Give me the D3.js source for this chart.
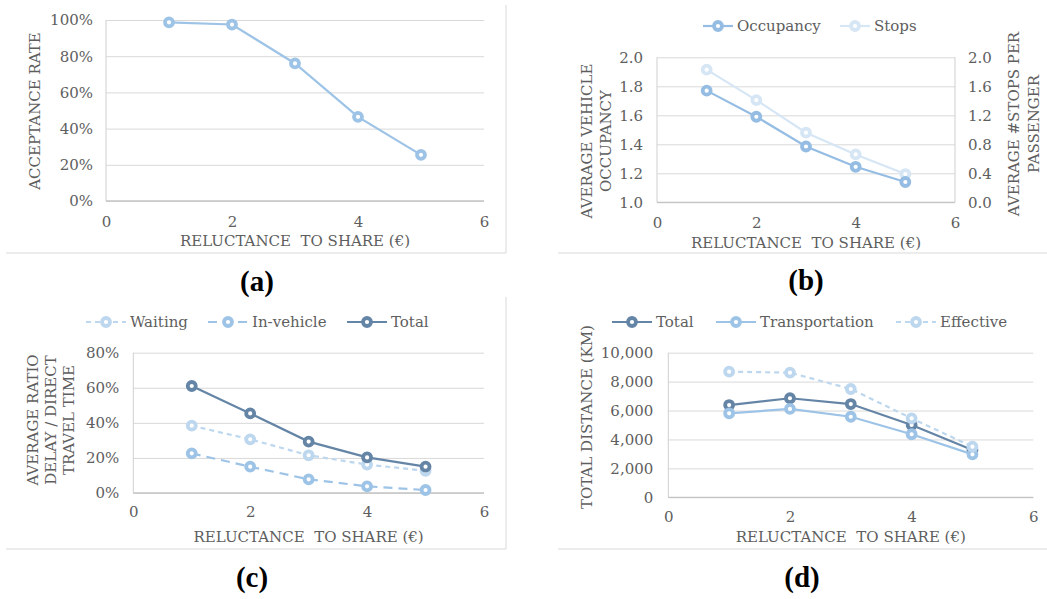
<!DOCTYPE html>
<html>
<head>
<meta charset="utf-8">
<script src="https://cdn.jsdelivr.net/npm/d3@7"></script>
<style>
  body { margin: 0; background: #fff; }
  svg text { font-family: "DejaVu Serif", serif; fill: #5e5e5e; white-space: pre; }
  .tick line { stroke: #d9d9d9; }
</style>
</head>
<body>
<svg id="fig" width="1047" height="599"></svg>
<script>
// data
var reluctance = [1, 2, 3, 4, 5]
var xTicks = [0, 2, 4, 6]

var acceptanceRate = [98.7, 97.5, 76, 46.5, 25.5]
var acceptanceTicks = [0, 20, 40, 60, 80, 100]

var occupancy = [1.77, 1.59, 1.385, 1.245, 1.14]
var stopsPerPassenger = [1.83, 1.41, 0.96, 0.66, 0.39]
var occupancyTicks = [1.0, 1.2, 1.4, 1.6, 1.8, 2.0]
var stopsTicks = [0.0, 0.4, 0.8, 1.2, 1.6, 2.0]

var waitingRatio = [38.4, 30.6, 21.5, 16.2, 12.7]
var inVehicleRatio = [22.6, 15, 7.8, 3.8, 1.7]
var totalRatio = [61, 45.4, 29.3, 20.3, 15]
var ratioTicks = [0, 20, 40, 60, 80]

var totalDistance = [6380, 6850, 6450, 5000, 3270]
var transportationDistance = [5810, 6110, 5570, 4360, 2970]
var effectiveDistance = [8690, 8620, 7490, 5460, 3500]
var distanceTicks = [0, 2000, 4000, 6000, 8000, 10000]

var svg = d3.select("#fig")

var cLight = "#9dc3e6", cPale = "#d6e6f5", cWait = "#bdd7ee", cDark = "#6585a6"

// panel frame lines
var frames = [[506, 5, 506, 253], [6, 253, 506, 253], [558, 253, 1047, 253],
              [506, 297, 506, 549], [6, 549, 506, 549], [558, 549, 1047, 549]]
svg.selectAll(".frame").data(frames).enter().append("line")
    .attr("x1", d => d[0]).attr("y1", d => d[1]).attr("x2", d => d[2]).attr("y2", d => d[3])
    .attr("stroke", "#d9d9d9").attr("stroke-width", 1)

function marker(sel, color) {
    sel.attr("r", 4).attr("fill", "#fff").attr("stroke", color).attr("stroke-width", 3.8)
}

function drawPanel(p) {
    var g = svg.append("g")
    var x = d3.scaleLinear().domain([0, 6]).range([p.left, p.right])
    var y = d3.scaleLinear().domain(p.yDomain).range([p.bottom, p.top])
    var w = p.right - p.left

    // y axis with gridlines
    var ya = g.append("g")
        .attr("transform", "translate(" + p.left + ",0)")
        .call(d3.axisLeft(y).tickValues(p.yTicks).tickSize(-w).tickPadding(p.yPad).tickFormat(p.yFormat))
    ya.select(".domain").remove()
    ya.selectAll("text").style("font-size", "15px")

    // plot edges
    g.append("line").attr("x1", p.left).attr("x2", p.left).attr("y1", p.top).attr("y2", p.bottom)
        .attr("stroke", "#cfcfcf")
    g.append("line").attr("x1", p.left).attr("x2", p.right).attr("y1", p.bottom).attr("y2", p.bottom)
        .attr("stroke", "#c4c4c4").attr("stroke-width", 1.3)
    if (p.y2) {
        g.append("line").attr("x1", p.right).attr("x2", p.right).attr("y1", p.top).attr("y2", p.bottom)
            .attr("stroke", "#cfcfcf")
        var y2 = d3.scaleLinear().domain(p.y2Domain).range([p.bottom, p.top])
        var ra = g.append("g")
            .attr("transform", "translate(" + p.right + ",0)")
            .call(d3.axisRight(y2).tickValues(p.y2Ticks).tickSize(0).tickPadding(13).tickFormat(d3.format(".1f")))
        ra.select(".domain").remove()
        ra.selectAll("text").style("font-size", "15px")
    }

    // x axis labels
    var xa = g.append("g")
        .attr("transform", "translate(0," + p.bottom + ")")
        .call(d3.axisBottom(x).tickValues(xTicks).tickSize(0).tickPadding(p.xPad).tickFormat(d3.format("d")))
    xa.select(".domain").remove()
    xa.selectAll("text").style("font-size", "15px")

    g.append("text")
        .attr("x", (p.left + p.right) / 2).attr("y", p.xTitleY)
        .attr("text-anchor", "middle").style("font-size", "15px")
        .text("RELUCTANCE  TO SHARE (€)")

    p.yTitles.forEach(t => {
        g.append("text")
            .attr("transform", "translate(" + t.x + "," + t.y + ") rotate(-90)")
            .attr("text-anchor", "middle").attr("dominant-baseline", "central")
            .style("font-size", "15px")
            .text(t.text)
    })

    // series
    p.series.forEach(s => {
        var ys = s.axis2 ? d3.scaleLinear().domain(p.y2Domain).range([p.bottom, p.top]) : y
        var pts = reluctance.map((r, i) => [x(r), ys(s.values[i])])
        g.append("path")
            .attr("d", d3.line()(pts))
            .attr("fill", "none").attr("stroke", s.color).attr("stroke-width", 2.2)
            .attr("stroke-dasharray", s.dash || null)
        g.selectAll(null).data(pts).enter().append("circle")
            .attr("cx", d => d[0]).attr("cy", d => d[1])
            .call(marker, s.color)
    })

    // legend
    if (p.legend) {
        p.legend.forEach(l => {
            var s = p.series.find(d => d.name === l.name)
            g.append("line")
                .attr("x1", l.x - l.half).attr("x2", l.x + l.half).attr("y1", p.legendY).attr("y2", p.legendY)
                .attr("stroke", s.color).attr("stroke-width", 2.2).attr("stroke-dasharray", s.dash || null)
            g.append("circle").attr("cx", l.x).attr("cy", p.legendY).call(marker, s.color)
            g.append("text").attr("x", l.x + l.half + 4).attr("y", p.legendY)
                .attr("dominant-baseline", "central").style("font-size", "15px")
                .text(l.name)
        })
    }

    g.append("text")
        .attr("x", p.capX).attr("y", p.capY).attr("text-anchor", "middle")
        .style("font-family", "'Liberation Serif', 'Times New Roman', serif")
        .style("font-weight", "bold").style("fill", "#000")
        .style("font-size", "29px").text(p.caption)
}

var pct = d => d + "%"

drawPanel({
    left: 106, right: 484, top: 20, bottom: 201,
    yDomain: [0, 100], yTicks: acceptanceTicks, yFormat: pct, yPad: 13, xPad: 15, xTitleY: 246,
    yTitles: [{ x: 35, y: 111, text: "ACCEPTANCE RATE" }],
    series: [{ name: "Acceptance", values: acceptanceRate, color: cLight }],
    caption: "(a)", capX: 257, capY: 291
})

drawPanel({
    left: 657, right: 955, top: 57.3, bottom: 202.3,
    yDomain: [1, 2], yTicks: occupancyTicks, yFormat: d3.format(".1f"), yPad: 14, xPad: 15, xTitleY: 248,
    y2: true, y2Domain: [0, 2], y2Ticks: stopsTicks,
    yTitles: [{ x: 587, y: 141, text: "AVERAGE VEHICLE" }, { x: 606, y: 141, text: "OCCUPANCY" },
              { x: 1014, y: 124, text: "AVERAGE #STOPS PER" }, { x: 1034, y: 124, text: "PASSENGER" }],
    series: [{ name: "Stops", values: stopsPerPassenger, color: cPale, axis2: true },
             { name: "Occupancy", values: occupancy, color: "#95bde3" }],
    legendY: 26,
    legend: [{ name: "Occupancy", x: 718, half: 15 }, { name: "Stops", x: 855, half: 15 }],
    caption: "(b)", capX: 806, capY: 290
})

drawPanel({
    left: 133.3, right: 484, top: 352.7, bottom: 493,
    yDomain: [0, 80], yTicks: ratioTicks, yFormat: pct, yPad: 14, xPad: 13, xTitleY: 542,
    yTitles: [{ x: 33, y: 420, text: "AVERAGE RATIO" }, { x: 51, y: 420, text: "DELAY / DIRECT" },
              { x: 69, y: 420, text: "TRAVEL TIME" }],
    series: [{ name: "Waiting", values: waitingRatio, color: cWait, dash: "5,4" },
             { name: "In-vehicle", values: inVehicleRatio, color: cLight, dash: "9,6" },
             { name: "Total", values: totalRatio, color: cDark }],
    legendY: 322,
    legend: [{ name: "Waiting", x: 106, half: 20 }, { name: "In-vehicle", x: 228, half: 20 },
             { name: "Total", x: 367, half: 20 }],
    caption: "(c)", capX: 252, capY: 587
})

drawPanel({
    left: 668.3, right: 1033.3, top: 352.7, bottom: 497.3,
    yDomain: [0, 10000], yTicks: distanceTicks, yFormat: d3.format(","), yPad: 15, xPad: 14, xTitleY: 542,
    yTitles: [{ x: 587, y: 417, text: "TOTAL DISTANCE (KM)" }],
    series: [{ name: "Total", values: totalDistance, color: cDark },
             { name: "Transportation", values: transportationDistance, color: cLight },
             { name: "Effective", values: effectiveDistance, color: cWait, dash: "5,4" }],
    legendY: 322,
    legend: [{ name: "Total", x: 632, half: 20 }, { name: "Transportation", x: 736, half: 20 },
             { name: "Effective", x: 916, half: 20 }],
    caption: "(d)", capX: 802, capY: 587
})
</script>
</body>
</html>
